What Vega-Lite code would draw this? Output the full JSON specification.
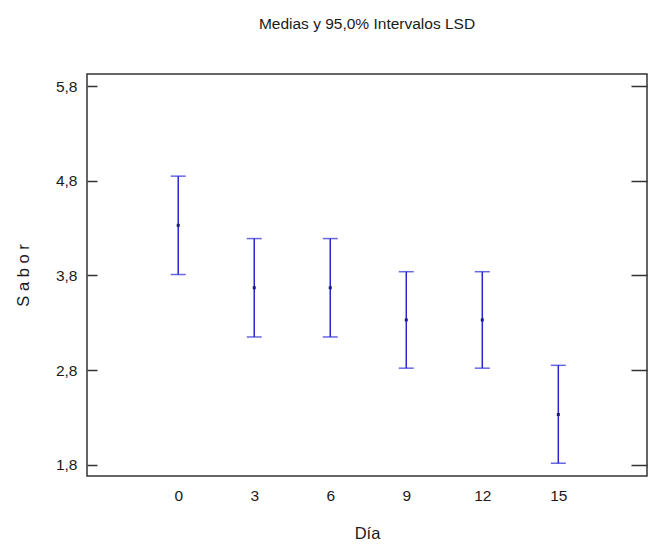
{
  "$schema": "https://vega.github.io/schema/vega-lite/v6.json",
  "width": 560,
  "height": 402,
  "autosize": {"type": "none"},
  "padding": {"left": 87, "top": 74, "right": 2, "bottom": 72},
  "background": "white",
  "title": {"text": "Medias y 95,0% Intervalos LSD", "font": "Liberation Sans", "fontSize": 15.5, "fontWeight": "normal", "color": "#1a1a1a", "offset": 42, "anchor": "middle"},
  "config": {
    "view": {"stroke": "#333333", "strokeWidth": 1.5},
    "axis": {"labelFont": "Liberation Sans", "titleFont": "Liberation Sans", "labelColor": "#1a1a1a", "titleColor": "#1a1a1a", "labelFontSize": 15.5, "titleFontSize": 16.5, "titleFontWeight": "normal", "grid": false, "domain": false, "tickColor": "#333333", "tickWidth": 1.5}
  },
  "data": {"values": [
    {"dia": 0, "media": 4.33, "lo": 3.81, "hi": 4.85},
    {"dia": 3, "media": 3.67, "lo": 3.15, "hi": 4.19},
    {"dia": 6, "media": 3.67, "lo": 3.15, "hi": 4.19},
    {"dia": 9, "media": 3.33, "lo": 2.82, "hi": 3.84},
    {"dia": 12, "media": 3.33, "lo": 2.82, "hi": 3.84},
    {"dia": 15, "media": 2.33, "lo": 1.815, "hi": 2.85}
  ]},
  "encoding": {
    "x": {"field": "dia", "type": "quantitative", "scale": {"domain": [-3.6, 18.5], "nice": false, "zero": false},
      "axis": {"values": [0, 3, 6, 9, 12, 15], "ticks": false, "labelPadding": 12, "title": "Día", "titlePadding": 22}}
  },
  "layer": [
    {
      "mark": {"type": "rule", "color": "#2626d6", "strokeWidth": 1.5},
      "encoding": {
        "y": {"field": "lo", "type": "quantitative", "scale": {"domain": [1.68, 5.93], "nice": false, "zero": false},
          "axis": {"orient": "left", "offset": -10, "values": [1.8, 2.8, 3.8, 4.8, 5.8], "tickSize": 10, "labelPadding": 10, "labelExpr": "replace(format(datum.value, '.1f'), '.', ',')", "title": "S a b o r", "titlePadding": 24}},
        "y2": {"field": "hi"}
      }
    },
    {
      "mark": {"type": "tick", "orient": "horizontal", "color": "#2626d6", "thickness": 1.5, "size": 15},
      "encoding": {"y": {"field": "lo", "type": "quantitative", "axis": {"orient": "right", "offset": -16, "values": [1.8, 2.8, 3.8, 4.8, 5.8], "tickSize": 16, "labels": false, "title": null}}}
    },
    {
      "mark": {"type": "tick", "orient": "horizontal", "color": "#2626d6", "thickness": 1.5, "size": 15},
      "encoding": {"y": {"field": "hi", "type": "quantitative", "axis": null}}
    },
    {
      "mark": {"type": "square", "color": "#1a1a70", "opacity": 1, "size": 9},
      "encoding": {"y": {"field": "media", "type": "quantitative", "axis": null}}
    }
  ],
  "resolve": {"axis": {"y": "independent"}}
}
